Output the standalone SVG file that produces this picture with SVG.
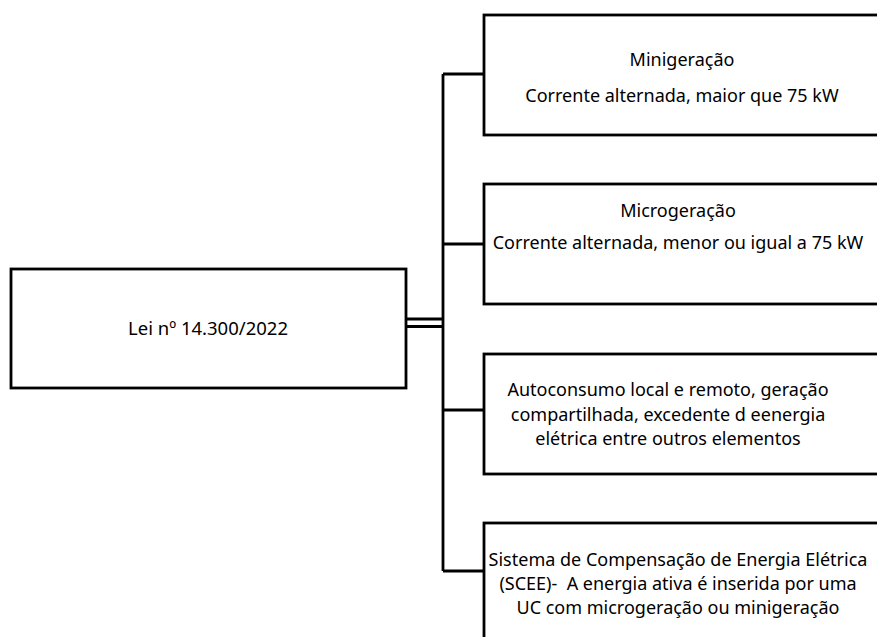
<svg xmlns="http://www.w3.org/2000/svg" width="877" height="637" viewBox="0 0 877 637">
<style>
.box{fill:#fff;stroke:#000;stroke-width:2.8}
.ln{stroke:#000;stroke-width:2.8;fill:none}
text{font-family:"Noto Sans","Open Sans",sans-serif;font-size:18px;fill:#000;text-anchor:middle;white-space:pre}
</style>
<rect width="877" height="637" fill="#fff"/>
<g id="connectors">
<line class="ln" x1="443" y1="74" x2="443" y2="571"/>
<line class="ln" x1="443" y1="74" x2="483" y2="74"/>
<line class="ln" x1="443" y1="244" x2="483" y2="244"/>
<line class="ln" x1="443" y1="410" x2="483" y2="410"/>
<line class="ln" x1="443" y1="571" x2="483" y2="571"/>
<line class="ln" x1="406" y1="319" x2="443" y2="319" stroke-width="2.5"/>
<line class="ln" x1="406" y1="326.5" x2="443" y2="326.5" stroke-width="2.5"/>
</g>
<g id="lei">
<rect class="box" x="11" y="269" width="395" height="119"/>
<text x="208" y="335" style="font-size:18.5px">Lei nº 14.300/2022</text>
</g>
<g id="minigeracao">
<rect class="box" x="484" y="15" width="410" height="120"/>
<text x="682" y="66">Minigeração</text>
<text x="682" y="102">Corrente alternada, maior que 75 kW</text>
</g>
<g id="microgeracao">
<rect class="box" x="484" y="184" width="410" height="120"/>
<text x="678" y="217">Microgeração</text>
<text x="678" y="249">Corrente alternada, menor ou igual a 75 kW</text>
</g>
<g id="autoconsumo">
<rect class="box" x="484" y="354" width="410" height="120"/>
<text x="668" y="396">Autoconsumo local e remoto, geração</text>
<text x="668" y="421">compartilhada, excedente d eenergia</text>
<text x="668" y="445">elétrica entre outros elementos</text>
</g>
<g id="scee">
<rect class="box" x="484" y="523" width="410" height="130"/>
<text x="678" y="566">Sistema de Compensação de Energia Elétrica</text>
<text x="678" y="590">(SCEE)-  A energia ativa é inserida por uma</text>
<text x="678" y="614">UC com microgeração ou minigeração</text>
</g>
</svg>
